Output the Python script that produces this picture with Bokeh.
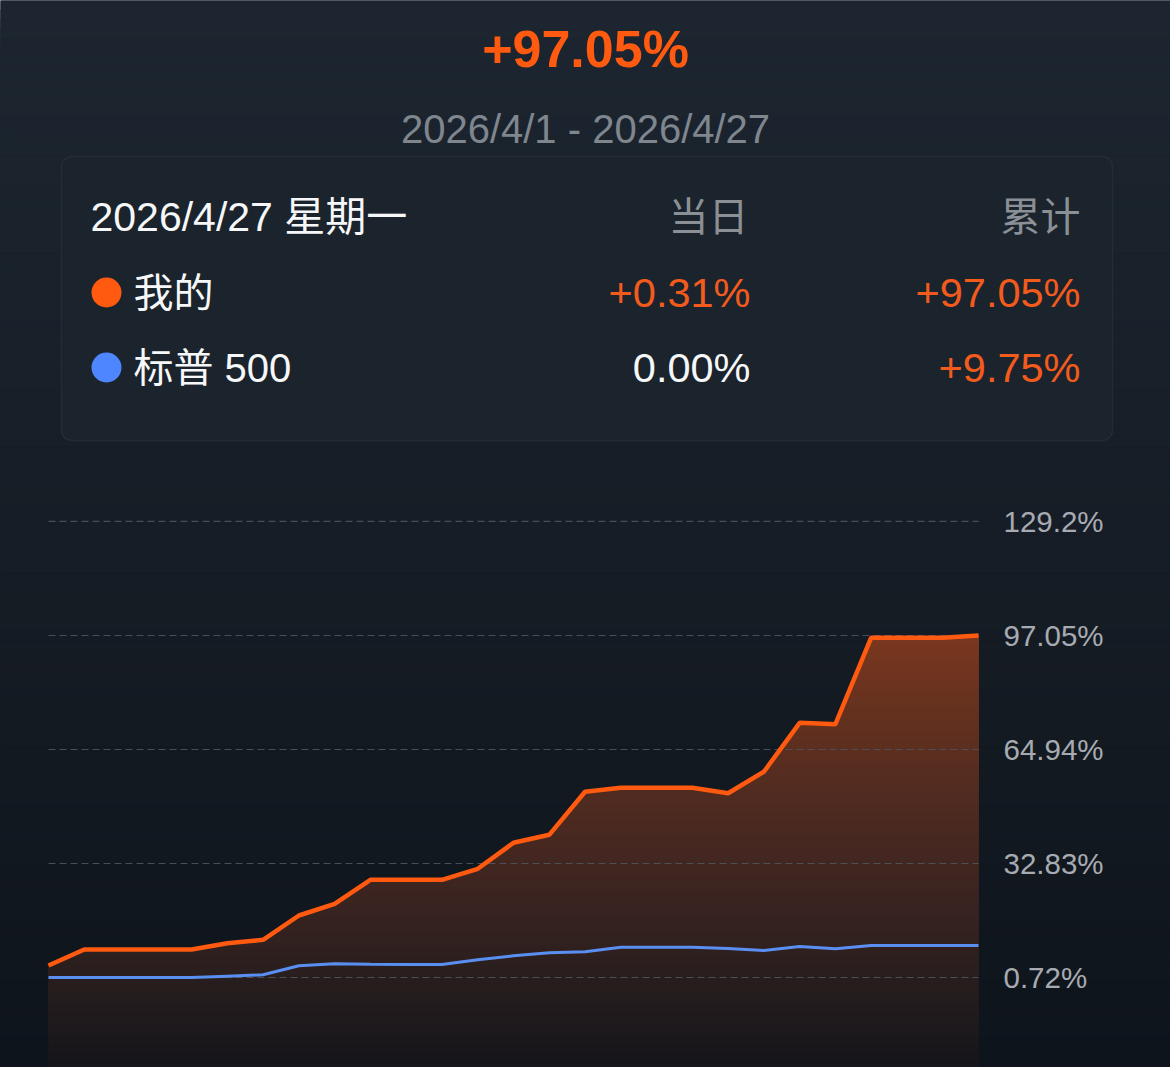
import numpy as np
from bokeh.plotting import figure
from bokeh.models import BoxAnnotation, Range1d, ColumnDataSource
from bokeh.core.properties import value
from bokeh.embed import file_html
from bokeh.resources import INLINE

# ---------------- data ----------------
days = list(range(1, 28))  # April 1 .. April 27, 2026
mine = [4.10, 8.61, 8.61, 8.61, 8.61, 10.38, 11.34, 18.18, 21.48, 28.24,
        28.24, 28.24, 31.34, 38.66, 40.91, 53.05, 54.15, 54.15, 54.15, 52.63,
        58.66, 72.46, 72.07, 96.44, 96.44, 96.44, 97.05]
sp500 = [0.72, 0.72, 0.72, 0.72, 0.72, 1.10, 1.48, 4.02, 4.58, 4.47,
         4.38, 4.38, 5.71, 6.83, 7.68, 8.00, 9.25, 9.25, 9.25, 8.89,
         8.32, 9.45, 8.80, 9.75, 9.75, 9.75, 9.75]
tick_values = [0.72, 32.83, 64.94, 97.05, 129.2]
tick_labels = ["0.72%", "32.83%", "64.94%", "97.05%", "129.2%"]

headline = "+97.05%"
date_range = "2026/4/1 - 2026/4/27"
detail_date = "2026/4/27 星期一"
col_heads = ["当日", "累计"]
series_names = ["我的", "标普 500"]
daily_change = ["+0.31%", "0.00%"]
total_change = ["+97.05%", "+9.75%"]

# ---------------- layout helpers ----------------
W, H = 1170, 1067
PX_DAY = 930 / 26
PX_PCT = 114 / 32.11
x_lo = 1 - 48 / PX_DAY
x_hi = x_lo + W / PX_DAY
y_hi = 0.72 + 977 / PX_PCT
y_lo = y_hi - H / PX_PCT


def X(px):
    return x_lo + px / PX_DAY


def Y(py):
    return y_hi - py / PX_PCT


def fs(px):
    return f"{px:.1f}px"


def hexc(c):
    return "#%02x%02x%02x" % tuple(int(round(v)) for v in c)


ORANGE = "#ff5a0f"
ORANGE_TXT = "#f35b1d"
BLUE_LINE = "#5a8ff2"
BLUE_DOT = "#4d86ff"
LATIN = value("Liberation Sans")
MIXED = value("Liberation Sans, Noto Sans CJK SC")

p = figure(width=W, height=H, x_range=Range1d(x_lo, x_hi), y_range=Range1d(y_lo, y_hi),
           output_backend="svg", toolbar_location=None, min_border=0,
           x_axis_location=None, y_axis_location=None)
p.grid.visible = False
p.outline_line_color = None
p.background_fill_color = "#161d26"
p.border_fill_color = "#161d26"

# ---------------- background gradient ----------------
top_c = np.array([29, 38, 48])
bot_c = np.array([14, 20, 27])
n_bg = 110
bg_top, bg_col = [], []
for i in range(n_bg):
    py = i * H / n_bg
    c = top_c + (bot_c - top_c) * (py / H)
    bg_top.append(Y(py) + (2 if i == 0 else 0))
    bg_col.append(hexc(c))
bg_src = ColumnDataSource(dict(top=bg_top, color=bg_col))
p.quad(left=x_lo - 1, right=x_hi + 1, top="top", bottom=y_lo - 2, color="color",
       source=bg_src, level="image")

# ---------------- summary box ----------------
box = BoxAnnotation(left=X(61), right=X(1112), top=Y(156), bottom=Y(440),
                    fill_color="#1b232c", fill_alpha=1.0, line_color="#3e4750",
                    line_width=1.5, border_radius=10, level="underlay")
p.add_layout(box)

p.text(x=[X(585)], y=[Y(48)], text=[headline], text_align="center", text_baseline="middle",
       text_font=LATIN, text_font_style="bold", text_font_size=fs(52), text_color=ORANGE)
p.text(x=[X(585)], y=[Y(128)], text=[date_range], text_align="center", text_baseline="middle",
       text_font=LATIN, text_font_size=fs(40), text_color="#7f868e")

p.text(x=[X(90)], y=[Y(216)], text=[detail_date], text_align="left", text_baseline="middle",
       text_font=MIXED, text_font_size=fs(41), text_color="#f6f7f8")
p.text(x=[X(748), X(1080)], y=[Y(216), Y(216)], text=col_heads, text_align="right",
       text_baseline="middle", text_font=MIXED, text_font_size=fs(40), text_color="#8a9096")

row_y = [Y(292), Y(367)]
p.scatter(x=[X(106)] * 2, y=row_y, size=30, color=[ORANGE, BLUE_DOT], line_color=None)
p.text(x=[X(133)] * 2, y=row_y, text=series_names, text_align="left", text_baseline="middle",
       text_font=MIXED, text_font_size=fs(40), text_color="#f6f7f8")
p.text(x=[X(750)] * 2, y=row_y, text=daily_change, text_align="right", text_baseline="middle",
       text_font=LATIN, text_font_size=fs(41.5), text_color=[ORANGE_TXT, "#f6f7f8"])
p.text(x=[X(1080)] * 2, y=row_y, text=total_change, text_align="right", text_baseline="middle",
       text_font=LATIN, text_font_size=fs(41.5), text_color=[ORANGE_TXT, ORANGE_TXT])

# ---------------- gradient area under "mine" (opaque stacked bands) ----------------
xd = np.linspace(days[0], days[-1], 1561)
cd = np.interp(xd, days, mine)
stop_py = [630, 700, 800, 900, 1000, 1067]
stop_rgb = np.array([[124, 56, 30], [104, 50, 31], [80, 43, 32], [58, 36, 32],
                     [36, 28, 29], [21, 21, 26]], dtype=float)

band_py = np.arange(H, 628, -4.0)
for k, py in enumerate(band_py):
    c = [np.interp(py, stop_py, stop_rgb[:, j]) for j in range(3)]
    lo = y_lo - 2 if k == 0 else Y(py)
    y1 = np.minimum(lo, cd)
    p.varea(x=xd, y1=y1, y2=cd, fill_color=hexc(c), fill_alpha=1.0)

# ---------------- grid + tick labels ----------------
p.segment(x0=[days[0]] * len(tick_values), x1=[days[-1]] * len(tick_values),
          y0=tick_values, y1=tick_values, line_color="#4d545c", line_width=1.2,
          line_dash="7 4", line_alpha=0.9)
p.text(x=[X(1003)] * len(tick_values), y=tick_values, text=tick_labels, text_align="left",
       text_baseline="middle", text_font=LATIN, text_font_size=fs(29.5), text_color="#a7abb1")

# ---------------- lines ----------------
p.line(days, sp500, line_color=BLUE_LINE, line_width=3)
p.line(days, mine, line_color=ORANGE, line_width=4.5)

open("out.html", "w").write(file_html(p, INLINE))
